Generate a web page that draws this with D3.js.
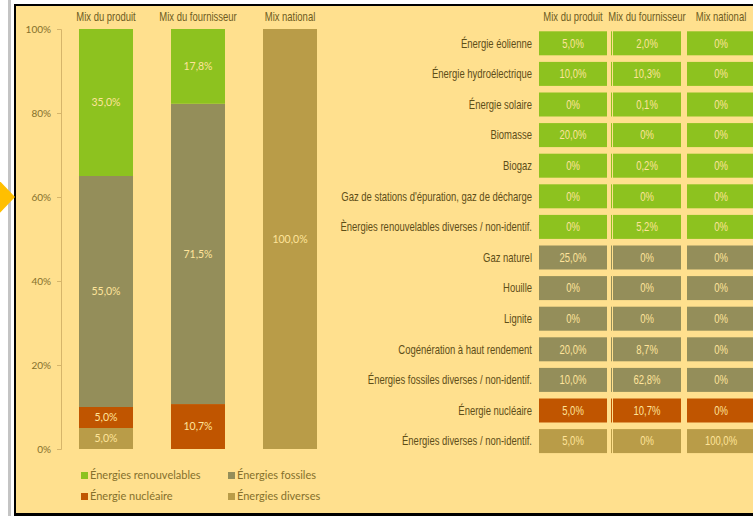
<!DOCTYPE html>
<html lang="fr">
<head>
<meta charset="utf-8">
<script src="https://cdn.jsdelivr.net/npm/d3@7"></script>
<style>
  html, body { margin: 0; padding: 0; background: #ffffff; }
  svg { display: block; }
  .narrow { font-family: "Liberation Sans", Arial, sans-serif; }
  .soft { font-family: Lato, "Open Sans", "Liberation Sans", sans-serif; }
</style>
</head>
<body>
<svg id="chart" width="753" height="516"></svg>
<script>
// Columns of the comparison (bars and table columns)
const categories = ["Mix du produit", "Mix du fournisseur", "Mix national"];

// Aggregated shares per group (%), one value per column
const groups = ["Énergies renouvelables", "Énergies fossiles", "Énergie nucléaire", "Énergies diverses"];
const renouvelables = [35.0, 17.8, 0];
const fossiles = [55.0, 71.5, 0];
const nucleaire = [5.0, 10.7, 0];
const diverses = [5.0, 0, 100.0];

// Detailed sources (table rows) and their group
const sources = [
  "Énergie éolienne",
  "Énergie hydroélectrique",
  "Énergie solaire",
  "Biomasse",
  "Biogaz",
  "Gaz de stations d'épuration, gaz de décharge",
  "Ènergies renouvelables diverses / non-identif.",
  "Gaz naturel",
  "Houille",
  "Lignite",
  "Cogénération à haut rendement",
  "Énergies fossiles diverses / non-identif.",
  "Énergie nucléaire",
  "Énergies diverses / non-identif."
];
const sourceGroup = [0, 0, 0, 0, 0, 0, 0, 1, 1, 1, 1, 1, 2, 3];
const produit     = [5.0, 10.0, 0, 20.0, 0, 0, 0, 25.0, 0, 0, 20.0, 10.0, 5.0, 5.0];
const fournisseur = [2.0, 10.3, 0.1, 0, 0.2, 0, 5.2, 0, 0, 0, 8.7, 62.8, 10.7, 0];
const national    = [0, 0, 0, 0, 0, 0, 0, 0, 0, 0, 0, 0, 0, 100.0];

// Y axis tick values
const yTicks = [0, 20, 40, 60, 80, 100];

const groupColors = ["#8dc21f", "#948e5a", "#c05500", "#b99c48"];
const bg = "#ffe08e";
const labelText = "#ffe49a";
const axisText = "#85702c";
const headText = "#6e5c1e";
const rowText = "#5e4e18";

const fmt = v => v === 0 ? "0%" : d3.format(".1f")(v).replace(".", ",") + "%";

const svg = d3.select("#chart");

// Condensed text: regular sans squeezed horizontally
const SQ = 0.79;
function narrowText(parent, px, py, str, opts) {
  return parent.append("text")
    .attr("class", "narrow")
    .attr("transform", `translate(${px},${py}) scale(${SQ},1)`)
    .attr("dy", opts.dy || "0.35em")
    .attr("text-anchor", opts.anchor || "middle")
    .attr("font-size", opts.size || 12)
    .attr("fill", opts.fill)
    .text(str);
}

// Frame: page margin, grey strip, black border and panel
svg.append("rect").attr("x", 0).attr("y", 0).attr("width", 753).attr("height", 516).attr("fill", "#ffffff");
svg.append("rect").attr("x", 8).attr("y", 0).attr("width", 3).attr("height", 516).attr("fill", "#c4c4c4");
svg.append("rect").attr("x", 14).attr("y", 4).attr("width", 745).attr("height", 512).attr("fill", "#000000");
svg.append("rect").attr("x", 16).attr("y", 6).attr("width", 745).attr("height", 507).attr("fill", bg);

// Orange pointer on the left edge
svg.append("path")
  .attr("d", "M-3,178 L15,197 L-3,216 Z")
  .attr("fill", "#ffbf00");

// ---------- Stacked bar chart ----------
const y = d3.scaleLinear().domain([0, 100]).range([449, 29]);
const x = d3.scaleBand().domain(categories).range([60, 336])
  .paddingInner(0.413).paddingOuter(0.2065);

const seriesByGroup = [renouvelables, fossiles, nucleaire, diverses];
const rows = categories.map((c, i) => {
  const r = { cat: c };
  groups.forEach((g, k) => { r[g] = seriesByGroup[k][i]; });
  return r;
});
// bottom to top: diverses, nucléaire, fossiles, renouvelables
const stackOrder = [3, 2, 1, 0];
const stack = d3.stack().keys(stackOrder.map(k => groups[k]));
const stacked = stack(rows);

const barG = svg.append("g");
stacked.forEach(layer => {
  const gi = groups.indexOf(layer.key);
  layer.forEach(seg => {
    const v = seg[1] - seg[0];
    if (v <= 0) return;
    barG.append("rect")
      .attr("x", x(seg.data.cat))
      .attr("y", y(seg[1]))
      .attr("width", x.bandwidth())
      .attr("height", y(seg[0]) - y(seg[1]))
      .attr("fill", groupColors[gi]);
    barG.append("text")
      .attr("class", "soft")
      .attr("x", x(seg.data.cat) + x.bandwidth() / 2)
      .attr("y", (y(seg[0]) + y(seg[1])) / 2)
      .attr("dy", "0.35em")
      .attr("text-anchor", "middle")
      .attr("font-size", 10.5)
      .attr("fill", labelText)
      .text(fmt(v));
  });
});

// Y axis
const yAxis = d3.axisLeft(y).tickValues(yTicks).tickSize(4).tickPadding(6)
  .tickFormat(d => d + "%");
const yg = svg.append("g").attr("transform", "translate(61,0)").call(yAxis);
yg.select(".domain").attr("stroke", "#d6b56a");
yg.selectAll(".tick line").attr("stroke", "#d6b56a");
yg.selectAll(".tick text").attr("class", "soft").attr("font-size", 10).attr("fill", axisText);

// Column headers above bars
const hg = svg.append("g");
categories.forEach(c => {
  narrowText(hg, x(c) + x.bandwidth() / 2, 17, c, { fill: headText });
});

// Legend (2 x 2)
const legendItems = [
  { g: 0, x: 81, y: 472 },
  { g: 1, x: 228, y: 472 },
  { g: 2, x: 81, y: 493 },
  { g: 3, x: 228, y: 493 }
];
const lg = svg.append("g");
legendItems.forEach(it => {
  lg.append("rect").attr("x", it.x).attr("y", it.y).attr("width", 7).attr("height", 7)
    .attr("fill", groupColors[it.g]);
  lg.append("text").attr("class", "soft")
    .attr("x", it.x + 9).attr("y", it.y + 3.5).attr("dy", "0.35em")
    .attr("font-size", 11).attr("fill", axisText)
    .text(groups[it.g]);
});

// ---------- Detail table ----------
const tx = d3.scaleBand().domain(categories).range([536, 758])
  .paddingInner(0.081).paddingOuter(0.0405);
const ty = d3.scaleBand().domain(sources).range([28, 28 + 14 * 30.6])
  .paddingInner(0.216).paddingOuter(0.108);

const colValues = [produit, fournisseur, national];

const thg = svg.append("g");
categories.forEach(c => {
  narrowText(thg, tx(c) + tx.bandwidth() / 2, 17, c, { fill: headText });
});

const tg = svg.append("g");
sources.forEach((s, i) => {
  const col = groupColors[sourceGroup[i]];
  const cy = ty(s) + ty.bandwidth() / 2;
  narrowText(tg, 532, cy, s, { anchor: "end", fill: rowText });
  categories.forEach((c, j) => {
    tg.append("rect")
      .attr("x", tx(c)).attr("y", ty(s))
      .attr("width", tx.bandwidth()).attr("height", ty.bandwidth())
      .attr("fill", col);
    if (j === 1) {
      // thin divider sliver left of the supplier column
      tg.append("rect")
        .attr("x", tx(c) - 2).attr("y", ty(s))
        .attr("width", 1).attr("height", ty.bandwidth())
        .attr("fill", col);
    }
    narrowText(tg, tx(c) + tx.bandwidth() / 2, cy, fmt(colValues[j][i]),
      { fill: labelText });
  });
});
</script>
</body>
</html>
